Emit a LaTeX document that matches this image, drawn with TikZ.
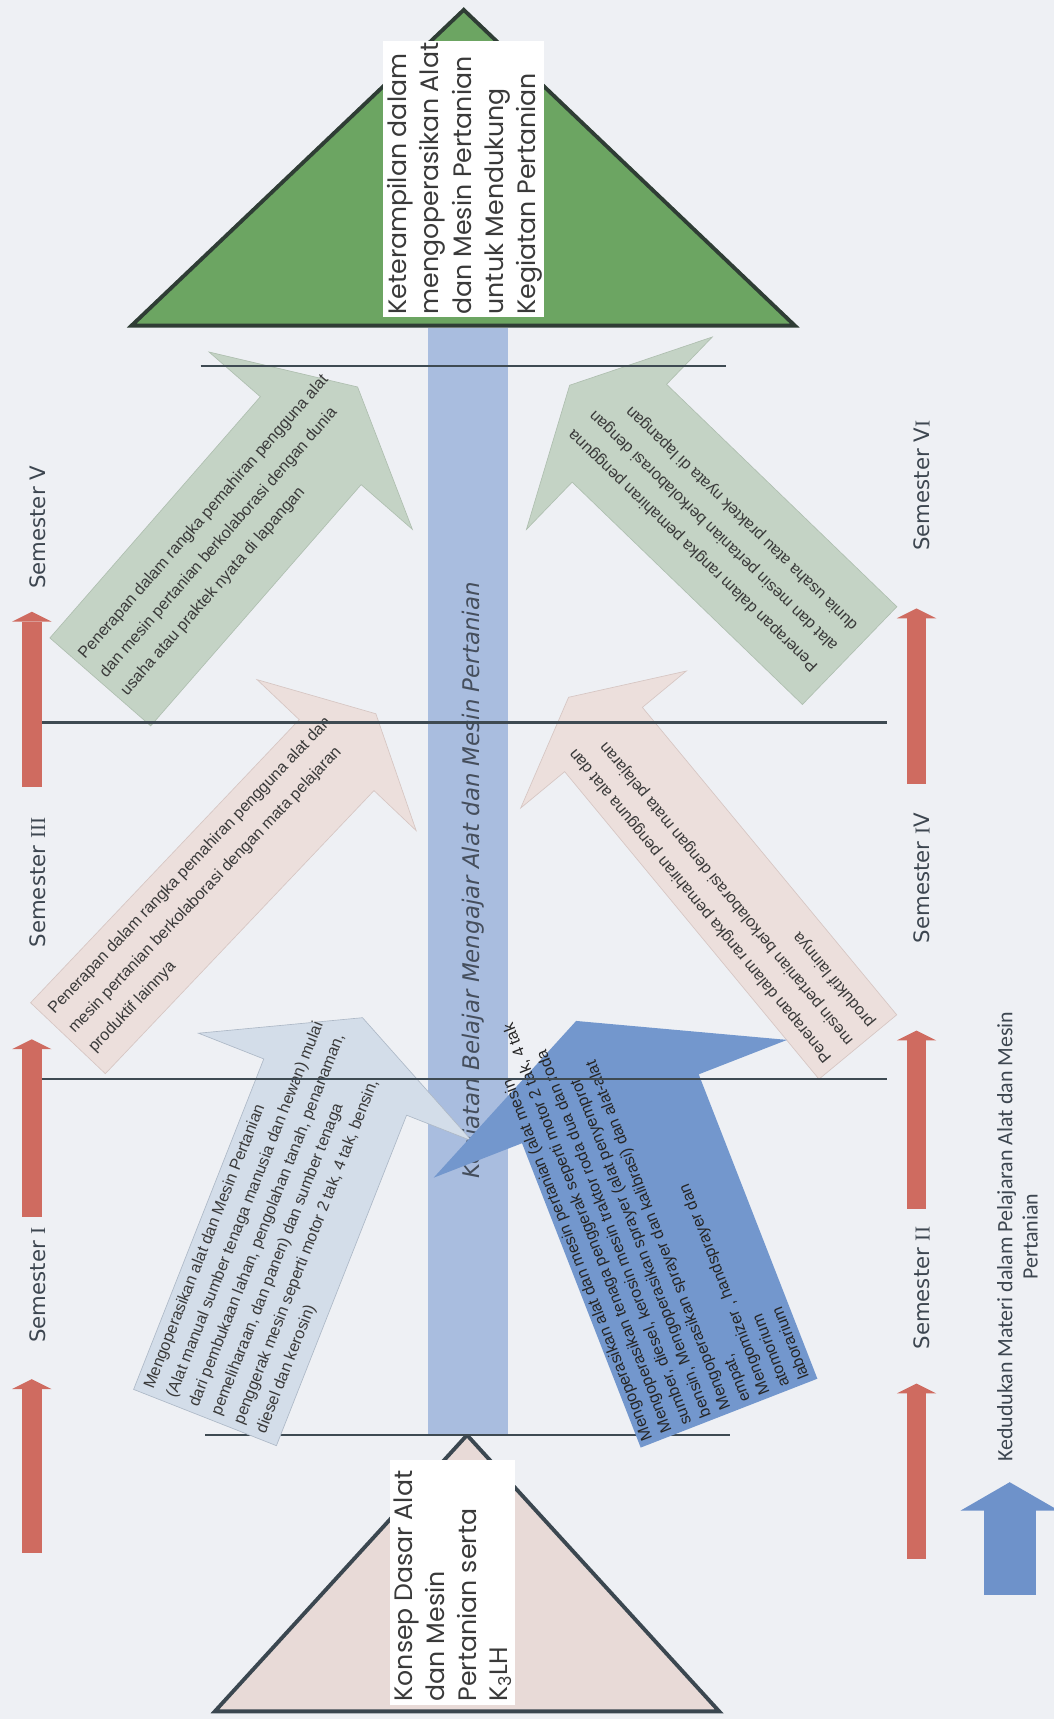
\documentclass[tikz,border=0pt]{standalone}
\usepackage{fontspec}
\setmainfont{Liberation Sans}
\newfontfamily\geofont{Poppins}
\newfontfamily\semfont{DejaVu Sans}
\newfontfamily\romfont{Liberation Serif}
\newfontfamily\legfont{Carlito}
\newfontfamily\handfont{DejaVu Sans}
\definecolor{bgc}{HTML}{EEF0F4}
\definecolor{topg}{HTML}{6CA562}
\definecolor{triedge}{HTML}{2F3D35}
\definecolor{botp}{HTML}{E8DAD7}
\definecolor{botedge}{HTML}{3B4750}
\definecolor{barc}{HTML}{A9BDDF}
\definecolor{hlinec}{HTML}{3E4A52}
\definecolor{greenA}{HTML}{C4D3C5}
\definecolor{greenAd}{HTML}{AFBFB0}
\definecolor{pinkA}{HTML}{ECDFDC}
\definecolor{pinkAd}{HTML}{D6C6C3}
\definecolor{lblue}{HTML}{D3DDE9}
\definecolor{lblued}{HTML}{AEB9C7}
\definecolor{dblue}{HTML}{7397CD}
\definecolor{redc}{HTML}{CF6B60}
\definecolor{legc}{HTML}{6E92CA}
\definecolor{txtc}{HTML}{3A3A3A}
\definecolor{semc}{HTML}{3D4650}
\definecolor{handc}{HTML}{454E5C}
\newcommand\sI{{\romfont I}}
\newcommand\redarrow[3]{%
  \fill[redc] (#1-9,-#3) rectangle (#1+9,-#2-9);
  \fill[redc] (#1-18,-#2-9) -- (#1,-#2) -- (#1+18,-#2-9) -- cycle;}
\tikzset{
  hline/.style={draw=hlinec, line width=2pt},
  atext/.style={transform shape, inner sep=0pt, align=left, text=txtc, anchor=west},
  semlabel/.style={rotate=90, text=semc, font=\semfont\fontsize{19.4}{22}\selectfont},
  tritext/.style={rotate=90, anchor=north west, inner sep=0pt, align=left, text=txtc}
}
\begin{document}
\begin{tikzpicture}[x=1pt,y=1pt]
\useasboundingbox (0,0) rectangle (961,-1568);
\fill[bgc] (0,0) rectangle (961,-1568);

% top goal triangle
\filldraw[fill=topg, draw=triedge, line width=3.5pt] (423,-9) -- (725,-297) -- (120,-297) -- cycle;
\fill[white] (349,-37) rectangle (496,-289);
\node[tritext, font=\geofont\fontsize{23}{29.5}\selectfont] (goal) at (353,-287)
 {Keterampilan dalam\\mengoperasikan Alat\\dan Mesin Pertanian\\untuk Mendukung\\Kegiatan Pertanian};

% bottom base triangle
\filldraw[fill=botp, draw=botedge, line width=3.5pt] (426,-1309) -- (656,-1561) -- (196,-1561) -- cycle;
\fill[white] (356,-1332) rectangle (470,-1555);
\node[tritext, font=\geofont\fontsize{23}{29}\selectfont] (base) at (359,-1552)
 {Konsep Dasar Alat\\dan Mesin\\Pertanian serta\\K\textsubscript{3}LH};

% central bar
\fill[barc] (390,-299) rectangle (463,-1309);
\node[rotate=90, font=\handfont\itshape\fontsize{20.9}{22}\selectfont, text=handc] (kbm) at (432,-803)
 {Kegiatan Belajar Mengajar Alat dan Mesin Pertanian};

% line 4 (behind arrows)
\coordinate (l4a) at (187,-1309); \coordinate (l4b) at (666,-1309);
\draw[hline] (l4a) -- (l4b);

% Semester V arrow (green, left)
\begin{scope}[shift={(91.5,-622)}, rotate=48.9]
 \filldraw[fill=greenA, draw=greenAd, line width=0.6pt] (0,-61) -- (292,-61) -- (292,-123) -- (357,0) -- (292,123) -- (292,61) -- (0,61) -- cycle;
 \node[atext, font=\fontsize{14.8}{25.5}\selectfont] (tGL) at (6,2)
  {Penerapan dalam rangka pemahiran pengguna alat\\dan mesin pertanian berkolaborasi dengan dunia\\usaha atau praktek nyata di lapangan};
\end{scope}

% Semester VI arrow (green, right)
\begin{scope}[shift={(775,-598)}, rotate=136]
 \filldraw[fill=greenA, draw=greenAd, line width=0.6pt] (0,-62) -- (292,-62) -- (292,-122) -- (355,0) -- (292,122) -- (292,62) -- (0,62) -- cycle;
 \node[atext, font=\fontsize{14.8}{26}\selectfont] (tGR) at (14,4)
  {Penerapan dalam rangka pemahiran pengguna\\alat dan mesin pertanian berkolaborasi dengan\\dunia usaha atau praktek nyata di lapangan};
\end{scope}

% Semester III arrow (pink, left)
\begin{scope}[shift={(62,-947)}, rotate=46.5]
 \filldraw[fill=pinkA, draw=pinkAd, line width=0.6pt] (0,-47) -- (356,-47) -- (356,-100) -- (408,0) -- (356,100) -- (356,47) -- (0,47) -- cycle;
 \node[atext, font=\fontsize{14.8}{25.3}\selectfont] (tPL) at (7,2)
  {Penerapan dalam rangka pemahiran pengguna alat dan\\mesin pertanian berkolaborasi dengan mata pelajaran\\produktif lainnya};
\end{scope}

% Semester IV arrow (pink, right)
\begin{scope}[shift={(782.5,-955)}, rotate=129.6]
 \filldraw[fill=pinkA, draw=pinkAd, line width=0.6pt] (0,-46) -- (364,-46) -- (364,-98) -- (414,0) -- (364,98) -- (364,46) -- (0,46) -- cycle;
 \node[atext, font=\fontsize{14.8}{25.3}\selectfont] (tPR) at (7,3)
  {Penerapan dalam rangka pemahiran pengguna alat dan\\mesin pertanian berkolaborasi dengan mata pelajaran\\produktif lainnya};
\end{scope}

% Semester I arrow (light blue, left)
\begin{scope}[shift={(187,-1293)}, rotate=68.5]
 \filldraw[fill=lblue, draw=lblued, line width=0.6pt] (0,-70) -- (324,-70) -- (324,-134) -- (392,0) -- (324,134) -- (324,70) -- (0,70) -- cycle;
 \node[atext, font=\fontsize{14.8}{22}\selectfont] (tLB) at (6,2)
  {Mengoperasikan alat dan Mesin Pertanian\\(Alat manual sumber tenaga manusia dan hewan) mulai\\dari pembukaan lahan, pengolahan tanah, penanaman,\\pemeliharaan, dan panen) dan sumber tenaga\\penggerak mesin seperti motor 2 tak, 4 tak, bensin,\\diesel dan kerosin)};
\end{scope}

% Semester II arrow (blue, right)
\begin{scope}[shift={(665,-1289)}, rotate=111.3]
 \fill[dblue] (0,-86.5) -- (298,-86.5) -- (298,-173) -- (384,0) -- (298,173) -- (298,86.5) -- (0,86.5) -- cycle;
 \node[atext, font=\fontsize{14.8}{19.2}\selectfont, text=black!85] (tDB) at (4,2)
  {Mengoperasikan alat dan mesin pertanian (alat mesin\\Mengoperasikan tenaga penggerak seperti motor 2 tak, 4 tak\\sumber, diesel, kerosin mesin traktor roda dua dan roda\\bensin, Mengoperasikan sprayer (alat penyemprot\\Mengoperasikan sprayer dan kalibrasi) dan alat-alat\\empat,\\Mengomizer , handsprayer dan\\atomorium\\laborarium};
\end{scope}

% horizontal lines 1-3
\coordinate (l1a) at (183,-334); \coordinate (l1b) at (662,-334);
\coordinate (l2a) at (37,-659);  \coordinate (l2b) at (809,-659);
\coordinate (l3a) at (37,-984);  \coordinate (l3b) at (809,-984);
\draw[hline] (l1a) -- (l1b);
\draw[hline] (l2a) -- (l2b);
\draw[hline] (l3a) -- (l3b);

% semester arrows
\redarrow{29}{1258}{1417}
\redarrow{29}{948}{1110}
\redarrow{29}{558}{718}
\redarrow{836}{1262}{1422}
\redarrow{836}{940}{1103}
\redarrow{836}{555}{715}

% semester labels
\node[semlabel] (s1) at (34,-1172) {Semester \sI};
\node[semlabel] (s3) at (34,-805) {Semester \sI\sI\sI};
\node[semlabel] (s5) at (34,-481) {Semester V};
\node[semlabel] (s2) at (841,-1175) {Semester \sI\sI};
\node[semlabel] (s4) at (841,-801) {Semester \sI V};
\node[semlabel] (s6) at (841,-443) {Semester V\sI};

% legend
\fill[legc] (898,-1455) rectangle (945,-1377);
\fill[legc] (876,-1378) -- (921,-1352) -- (966,-1378) -- cycle;
\node[rotate=90, align=center, text=semc, font=\legfont\fontsize{20}{23}\selectfont] (leg) at (928,-1128)
 {Kedudukan Materi dalam Pelajaran Alat dan Mesin\\Pertanian};
\end{tikzpicture}
\end{document}
